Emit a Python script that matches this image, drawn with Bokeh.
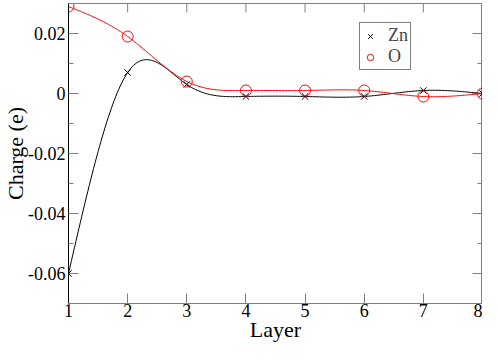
import numpy as np
from bokeh.plotting import figure
from bokeh.models import Range1d, FixedTicker, Legend, LegendItem, ColumnDataSource, CustomJSTickFormatter
from bokeh.embed import file_html
from bokeh.resources import INLINE

# ---- data ----
layers = [1, 2, 3, 4, 5, 6, 7, 8]
zn = [-0.060, 0.007, 0.003, -0.001, -0.001, -0.001, 0.001, 0.000]
o = [0.029, 0.019, 0.004, 0.001, 0.001, 0.001, -0.001, 0.000]
y_ticks = [-0.06, -0.04, -0.02, 0.0, 0.02]
y_tick_labels = ["-0.06", "-0.04", "-0.02", "0", "0.02"]
y_minor = [-0.07, -0.05, -0.03, -0.01, 0.01, 0.03]
x_ticks = [1, 2, 3, 4, 5, 6, 7, 8]
x_tick_labels = ["1", "2", "3", "4", "5", "6", "7", "8"]
x_lo, x_hi = 1, 8
y_lo, y_hi = -0.07, 0.03


def natural_spline(x, y, per=40):
    """Natural cubic spline through the data (smooth line rendering)."""
    x = np.asarray(x, float)
    y = np.asarray(y, float)
    n = len(x)
    h = np.diff(x)
    A = np.zeros((n, n))
    r = np.zeros(n)
    A[0, 0] = 1
    A[-1, -1] = 1
    for i in range(1, n - 1):
        A[i, i - 1] = h[i - 1]
        A[i, i] = 2 * (h[i - 1] + h[i])
        A[i, i + 1] = h[i]
        r[i] = 6 * ((y[i + 1] - y[i]) / h[i] - (y[i] - y[i - 1]) / h[i - 1])
    M = np.linalg.solve(A, r)
    xs, ys = [], []
    for i in range(n - 1):
        t = np.linspace(x[i], x[i + 1], per, endpoint=(i == n - 2))
        a = x[i + 1] - t
        b = t - x[i]
        s = (M[i] * a**3 + M[i + 1] * b**3) / (6 * h[i]) \
            + (y[i] / h[i] - M[i] * h[i] / 6) * a \
            + (y[i + 1] / h[i] - M[i + 1] * h[i] / 6) * b
        xs.extend(t)
        ys.extend(s)
    return xs, ys


FONT = "Liberation Serif"
GRAY = "#808080"

LOOKUP_JS = """
let best = 0;
for (let i = 0; i < tvals.length; i++) {
  if (Math.abs(tvals[i] - tick) < Math.abs(tvals[best] - tick)) best = i;
}
return tlabels[best];
"""

p = figure(width=482, height=344, output_backend="svg", toolbar_location=None,
           x_range=Range1d(x_lo, x_hi), y_range=Range1d(y_lo, y_hi),
           min_border_left=20, min_border_right=0, min_border_top=3, min_border_bottom=20,
           x_axis_label="Layer", y_axis_label="Charge (e)")
p.xgrid.visible = False
p.ygrid.visible = False
p.outline_line_color = GRAY
p.outline_line_width = 1
p.background_fill_color = "white"
p.border_fill_color = "white"

xa = p.xaxis[0]
ya = p.yaxis[0]
xa.ticker = FixedTicker(ticks=x_ticks)
xa.formatter = CustomJSTickFormatter(args=dict(tvals=x_ticks, tlabels=x_tick_labels), code=LOOKUP_JS)
ya.ticker = FixedTicker(ticks=y_ticks, minor_ticks=y_minor)
ya.formatter = CustomJSTickFormatter(args=dict(tvals=y_ticks, tlabels=y_tick_labels), code=LOOKUP_JS)
for ax in (xa, ya):
    ax.major_tick_in = 10
    ax.major_tick_out = 0
    ax.minor_tick_in = 5
    ax.minor_tick_out = 0
    ax.major_tick_line_color = GRAY
    ax.minor_tick_line_color = GRAY
    ax.major_label_text_font = FONT
    ax.major_label_text_font_size = "18px"
    ax.major_label_text_font_style = "normal"
    ax.major_label_text_color = "black"
    ax.axis_label_text_font = FONT
    ax.axis_label_text_font_size = "22px"
    ax.axis_label_text_font_style = "normal"
    ax.axis_label_text_color = "black"
xa.minor_tick_line_color = None
xa.axis_line_color = GRAY
ya.axis_line_color = "black"
xa.major_label_standoff = 0
xa.axis_label_standoff = -3
ya.major_label_standoff = 3
ya.axis_label_standoff = -3

# mirrored ticks on top and right edges
p.ray(x=x_ticks, y=[y_hi] * len(x_ticks), length=9, length_units="screen",
      angle=-np.pi / 2, line_color=GRAY, line_width=1)
p.ray(x=[x_hi] * len(y_ticks), y=y_ticks, length=10, length_units="screen",
      angle=np.pi, line_color=GRAY, line_width=1)
p.ray(x=[x_hi] * len(y_minor), y=y_minor, length=5, length_units="screen",
      angle=np.pi, line_color=GRAY, line_width=1)

# smooth lines
zx, zy = natural_spline(layers, zn)
ox, oy = natural_spline(layers, o)
p.line(zx, zy, line_color="black", line_width=1)
p.line(ox, oy, line_color="red", line_width=1)

src = ColumnDataSource(dict(x=layers, zn=zn, o=o))
r_zn = p.scatter("x", "zn", source=src, marker="x", size=9, line_color="black", line_width=1)
r_o = p.scatter("x", "o", source=src, marker="circle", size=11, fill_color=None,
                line_color="red", line_width=1)

legend = Legend(items=[LegendItem(label="Zn", renderers=[r_zn]),
                       LegendItem(label="O", renderers=[r_o])],
                location=(291, 233))
legend.label_text_font = FONT
legend.label_text_font_size = "18px"
legend.label_text_line_height = 1.0
legend.label_height = 16
legend.glyph_height = 16
legend.glyph_width = 16
legend.label_standoff = 10
legend.spacing = -1
legend.padding = 2
legend.margin = 0
legend.border_line_color = "black"
legend.border_line_width = 1
legend.background_fill_color = "white"
legend.background_fill_alpha = 1
p.add_layout(legend, "center")

open("out.html", "w").write(file_html(p, INLINE))
